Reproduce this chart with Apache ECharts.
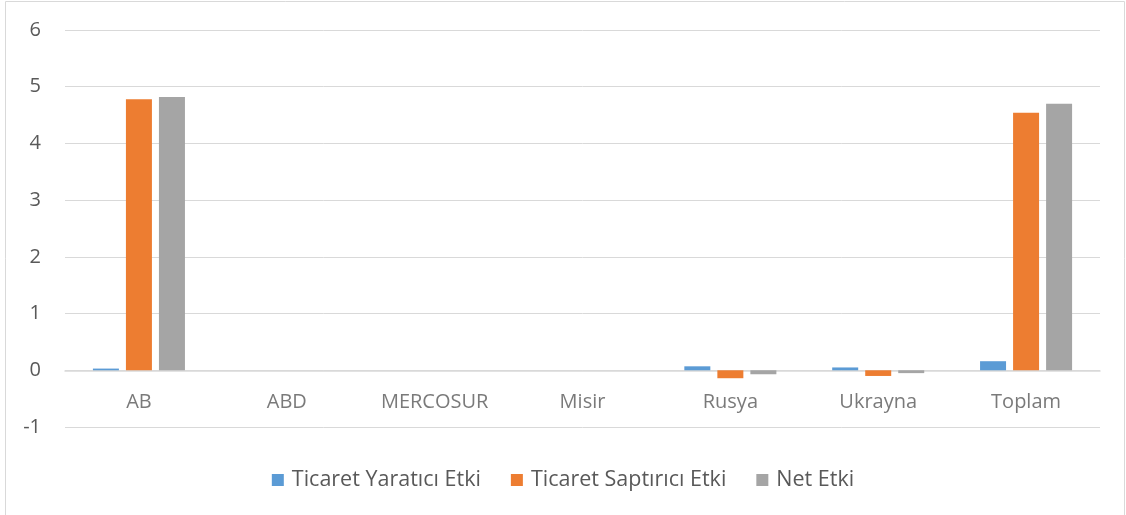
<!DOCTYPE html>
<html>
<head>
<meta charset="utf-8">
<script src="https://cdn.jsdelivr.net/npm/echarts@6/dist/echarts.min.js"></script>
<style>
  html, body { margin: 0; padding: 0; background: #fff; }
  #chart { width: 1126px; height: 515px; }
</style>
</head>
<body>
<div id="chart"></div>
<script>
// Categories (trading partners) and effect values per series
const categories = ['AB', 'ABD', 'MERCOSUR', 'Misir', 'Rusya', 'Ukrayna', 'Toplam'];
const seriesNames = ['Ticaret Yaratıcı Etki', 'Ticaret Saptırıcı Etki', 'Net Etki'];
const tradeCreation = [0.03, 0, 0, 0, 0.07, 0.05, 0.16];
const tradeDiversion = [4.78, 0, 0, 0, -0.14, -0.10, 4.54];
const netEffect = [4.82, 0, 0, 0, -0.07, -0.05, 4.70];
const yTicks = { min: -1, max: 6, step: 1 };

const colors = ['#5B9BD5', '#ED7D31', '#A5A5A5'];
const textColor = '#595959';
const gridColor = '#D9D9D9';
const font = '"Open Sans", sans-serif';
const fontSize = 20;

const chart = echarts.init(document.getElementById('chart'));
const values = [tradeCreation, tradeDiversion, netEffect];

chart.setOption({
  animation: false,
  color: colors,
  graphic: [{
    type: 'rect',
    shape: { x: 5.5, y: 1.5, width: 1119, height: 520 },
    style: { fill: 'none', stroke: gridColor, lineWidth: 1 },
    silent: true
  }],
  grid: { left: 65, right: 26, top: 30, bottom: 88, containLabel: false },
  legend: {
    top: 464,
    left: 'center',
    itemWidth: 12,
    itemHeight: 12,
    itemGap: 30,
    icon: 'rect',
    textStyle: { color: textColor, fontSize: 21.5, fontFamily: font, padding: [0, 0, 0, 3] },
    data: seriesNames
  },
  xAxis: {
    type: 'category',
    data: categories,
    axisLine: { show: true, onZero: true, lineStyle: { color: gridColor, width: 1.5 } },
    axisTick: { show: false },
    axisLabel: { show: false }
  },
  yAxis: {
    type: 'value',
    min: yTicks.min,
    max: yTicks.max,
    interval: yTicks.step,
    axisLine: { show: false },
    axisTick: { show: false },
    splitLine: { lineStyle: { color: gridColor, width: 1 } },
    axisLabel: { color: textColor, fontSize: fontSize, fontFamily: font, margin: 24 }
  },
  series: seriesNames.map((name, i) => ({
    name: name,
    type: 'bar',
    data: values[i],
    barWidth: 26,
    barGap: '27%',
    itemStyle: { color: colors[i] }
  })).concat([{
    // Category names placed just under the zero line
    type: 'scatter',
    data: categories.map(c => [c, 0]),
    symbolSize: 0,
    silent: true,
    label: {
      show: true,
      position: 'bottom',
      distance: 22,
      formatter: p => p.data[0],
      color: textColor,
      fontSize: fontSize,
      fontFamily: font
    }
  }])
});
</script>
</body>
</html>
